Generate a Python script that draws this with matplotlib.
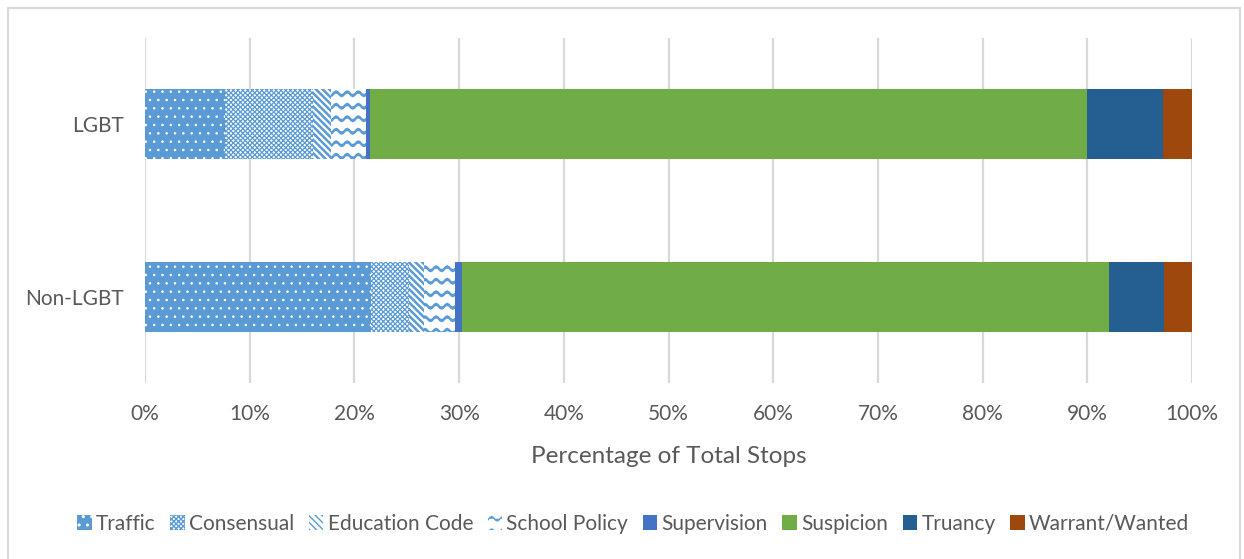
import warnings

import matplotlib

matplotlib.use("Agg")
import matplotlib.hatch as mhatch
import matplotlib.pyplot as plt
import numpy as np
from matplotlib.patches import Rectangle
from matplotlib.path import Path

warnings.filterwarnings("ignore", message=".*hatch.*")

groups = ["LGBT", "Non-LGBT"]
reasons = ["Traffic", "Consensual", "Education Code", "School Policy",
           "Supervision", "Suspicion", "Truancy", "Warrant/Wanted"]
lgbt = [7.6, 8.4, 1.8, 3.3, 0.4, 68.5, 7.2, 2.8]
non_lgbt = [21.6, 3.6, 1.4, 3.0, 0.7, 61.8, 5.2, 2.7]
ticks = np.arange(0, 101, 10)


class WaveHatch(mhatch.HatchPatternBase):
    """Wavy lines for '~' (not a built-in matplotlib hatch)."""

    def __init__(self, hatch, density):
        self.num_lines = 8 * hatch.count("~")
        self.periods = 9
        self.pts = self.periods * 8 + 1
        self.num_vertices = self.num_lines * self.pts

    def set_vertices_and_codes(self, vertices, codes):
        x = np.linspace(0, 1, self.pts)
        for i in range(self.num_lines):
            y0 = (i + 0.5) / self.num_lines
            y = y0 + 0.022 * np.sin(2 * np.pi * self.periods * x)
            sl = slice(i * self.pts, (i + 1) * self.pts)
            vertices[sl, 0] = x
            vertices[sl, 1] = y
            codes[sl] = Path.LINETO
            codes[i * self.pts] = Path.MOVETO


mhatch._hatch_types.append(WaveHatch)

# face, hatch colour, hatch pattern, hatch line width
styles = [
    ("#5B9BD5", "white", "..", 0.6),
    ("white", "#5B9BD5", "xxxxxxx", 0.9),
    ("white", "#5B9BD5", "\\\\\\\\\\", 1.8),
    ("white", "#5B9BD5", "~", 1.8),
    ("#4472C4", "#4472C4", None, 1.0),
    ("#70AD47", "#70AD47", None, 1.0),
    ("#255E91", "#255E91", None, 1.0),
    ("#9E480E", "#9E480E", None, 1.0),
]

plt.rcParams["font.family"] = ["Lato", "DejaVu Sans"]
text_color = "#595959"

fig = plt.figure(figsize=(12.44, 5.59), dpi=100)
ax = fig.add_axes([0.1166, 0.315, 0.8416, 0.617])

ypos = np.array([1, 0])
data = np.array([lgbt, non_lgbt])
left = np.zeros(2)
for j, name in enumerate(reasons):
    face, hcol, hatch, hlw = styles[j]
    plt.rcParams["hatch.linewidth"] = hlw
    bars = ax.barh(ypos, data[:, j], left=left, height=0.406, color=face,
                   edgecolor=hcol, linewidth=0, hatch=hatch, label=name,
                   zorder=3)
    for b in bars:
        if hasattr(b, "set_hatch_linewidth"):
            b.set_hatch_linewidth(hlw)
    left += data[:, j]

ax.set_xlim(0, 100)
ax.set_ylim(-0.5, 1.5)
ax.set_xticks(ticks, [f"{t}%" for t in ticks])
ax.set_yticks(ypos, groups)
ax.tick_params(axis="both", length=0, labelsize=15, colors=text_color)
ax.tick_params(axis="x", pad=15)
ax.tick_params(axis="y", pad=15)
ax.grid(axis="x", color="#D9D9D9", linewidth=1.6, zorder=0)
for s in ax.spines.values():
    s.set_visible(False)
ax.set_xlabel("Percentage of Total Stops", fontsize=17.5, color=text_color,
              labelpad=16)

leg = ax.legend(loc="center", bbox_to_anchor=(0.509, 0.0628), bbox_transform=fig.transFigure,
                ncol=8, frameon=False, fontsize=15, handlelength=0.7,
                handleheight=0.7, handletextpad=0.2, columnspacing=0.7)
for t in leg.get_texts():
    t.set_color(text_color)

fig.patches.append(Rectangle((8 / 1244, -0.01), 1232 / 1244, 1 - 8 / 559 + 0.01,
                             transform=fig.transFigure, fill=False,
                             edgecolor="#D9D9D9", linewidth=1.5))

fig.savefig("out.png", dpi=100)
